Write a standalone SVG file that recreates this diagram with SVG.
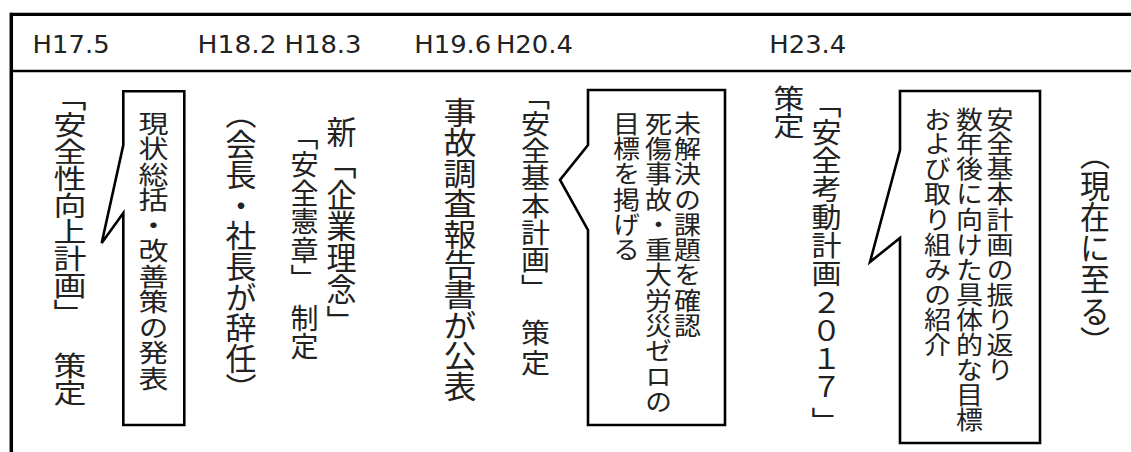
<svg xmlns="http://www.w3.org/2000/svg" width="1131" height="452" viewBox="0 0 1131 452">
<style>
.h{font-family:"DejaVu Sans",Verdana,sans-serif;font-size:24.5px;fill:#222}
.v{font-family:"Noto Sans CJK JP","Noto Sans CJK SC",sans-serif;writing-mode:vertical-rl;text-spacing-trim:space-all;fill:#222}
.box{fill:#fff;stroke:#000;stroke-width:2.6;stroke-linejoin:miter}
.frame{stroke:#000;fill:none}
</style>
<g id="frame">
<line class="frame" x1="10" y1="14.3" x2="1131" y2="14.3" stroke-width="3.2"/>
<line class="frame" x1="11.3" y1="12.7" x2="11.3" y2="452" stroke-width="3.5"/>
<line class="frame" x1="11" y1="71" x2="1131" y2="71" stroke-width="2.5"/>
</g>
<g id="header">
<text class="h" x="32.6" y="53.3" textLength="77" lengthAdjust="spacingAndGlyphs">H17.5</text>
<text class="h" x="197.6" y="53.3" textLength="79" lengthAdjust="spacingAndGlyphs">H18.2</text>
<text class="h" x="284.5" y="53.3" textLength="77" lengthAdjust="spacingAndGlyphs">H18.3</text>
<text class="h" x="414.3" y="53.3" textLength="77" lengthAdjust="spacingAndGlyphs">H19.6</text>
<text class="h" x="495.9" y="53.3" textLength="77" lengthAdjust="spacingAndGlyphs">H20.4</text>
<text class="h" x="769.3" y="53.3" textLength="77" lengthAdjust="spacingAndGlyphs">H23.4</text>
</g>
<g id="connectors"></g>
<g id="ev-h17-5">
<text class="v" font-size="33" transform="translate(70,84.8) scale(1,0.812)" x="0" y="0 33 66 99 132 165 198 231 264 330 363">「安全性向上計画」策定</text>
</g>
<g id="callout-1">
<path class="box" d="M123.3,91.3 H184.3 V425 H123.3 V213 L101.7,243 L123.3,145 Z"/>
<text class="v" font-size="30" transform="translate(153.5,110.25) scale(1,0.85)" x="0" y="0 30 60 90 120 150 180 210 240 270 300">現状総括・改善策の発表</text>
</g>
<g id="ev-h18-2">
<text class="v" font-size="31" transform="translate(241,98.1) scale(1,0.987)" x="0" y="0 31 62 93 124 155 186 217 248 279">（会長・社長が辞任）</text>
</g>
<g id="ev-h18-3">
<text class="v" font-size="30" transform="translate(341.5,116.25) scale(1,1.05)" x="0" y="0 30 60 90 120 150 180">新「企業理念」</text>
<text class="v" font-size="28" transform="translate(304.5,121.75) scale(1,1.018)" x="0" y="0 28 56 84 112 140 179.3 206.8">「安全憲章」制定</text>
</g>
<g id="ev-h19-6">
<text class="v" font-size="33" transform="translate(460,97.3) scale(1,0.921)" x="0" y="0 33 66 99 132 165 198 231 264 297">事故調査報告書が公表</text>
</g>
<g id="ev-h20-4">
<text class="v" font-size="29" transform="translate(535.5,82.5) scale(1,0.941)" x="0" y="0 29 58 87 116 145 174 203 251.7 283.6">「安全基本計画」策定</text>
</g>
<g id="callout-2">
<path class="box" d="M588,90 H725 V425 H588 V230 L560,180 L588,145 Z"/>
<text class="v" font-size="27" transform="translate(687.5,110.35) scale(1,0.937)" x="0" y="0 27 54 81 108 135 162 189 216">未解決の課題を確認</text>
<text class="v" font-size="27" transform="translate(658.5,110.35) scale(1,0.937)" x="0" y="0 27 54 81 108 135 162 189 216 243 270 297">死傷事故・重大労災ゼロの</text>
<text class="v" font-size="27" transform="translate(626.5,110.35) scale(1,0.937)" x="0" y="0 27 54 81 108 135">目標を掲げる</text>
</g>
<g id="ev-h23-4">
<text class="v" font-size="30" transform="translate(826.5,89.85) scale(1,0.943)" x="0" y="0 30 60 90 120 150 180 210 240 270 300 336">「安全考動計画２０１７」</text>
<text class="v" font-size="31" transform="translate(789,84.75) scale(1,0.887)" x="0" y="0 31">策定</text>
</g>
<g id="callout-3">
<path class="box" d="M900,91 H1040 V443 H900 V238 L870,262 L900,150 Z"/>
<text class="v" font-size="27" transform="translate(1000,106.5) scale(1,0.926)" x="0" y="0 27 54 81 108 135 162 189 216 243 270">安全基本計画の振り返り</text>
<text class="v" font-size="27" transform="translate(969.5,106.5) scale(1,0.926)" x="0" y="0 27 54 81 108 135 162 189 216 243 270 297 324">数年後に向けた具体的な目標</text>
<text class="v" font-size="27" transform="translate(937.5,106.5) scale(1,0.926)" x="0" y="0 27 54 81 108 135 162 189 216 243">および取り組みの紹介</text>
</g>
<g id="ev-now">
<text class="v" font-size="30" transform="translate(1095,138.75) scale(1,1.043)" x="0" y="0 30 60 90 120 150 180">（現在に至る）</text>
</g>
</svg>
